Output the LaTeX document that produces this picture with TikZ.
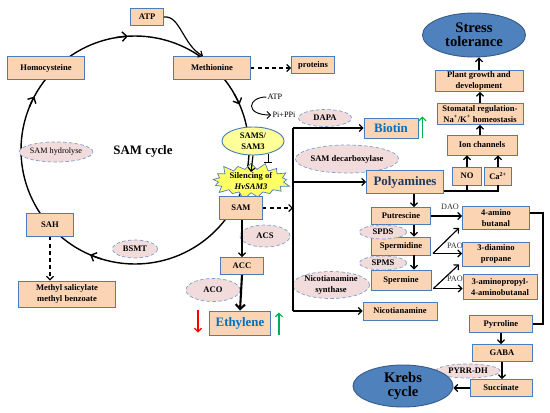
\documentclass[tikz,border=0pt]{standalone}
\usepackage{fontspec}
\setmainfont{Liberation Serif}
\usetikzlibrary{arrows.meta, positioning, calc, shapes.geometric, shapes.symbols}
\definecolor{boxfill}{HTML}{FBD4B4}
\definecolor{boxline}{HTML}{4A7EBB}
\definecolor{enzfill}{HTML}{F2DCDB}
\definecolor{enzline}{HTML}{7F9FCF}
\definecolor{goalfill}{HTML}{4F81BD}
\definecolor{goalline}{HTML}{385D8A}
\definecolor{samsfill}{HTML}{FFFF99}
\definecolor{burstfill}{HTML}{FFFF66}
\definecolor{prodblue}{HTML}{0070C0}
\definecolor{polynavy}{HTML}{1F3864}
\definecolor{upgreen}{HTML}{00B050}
\definecolor{downred}{HTML}{FF0000}
\newcommand{\boxfont}{\fontsize{7.3}{9}\selectfont\bfseries}
\newcommand{\lblfont}{\fontsize{7}{8}\selectfont}

\begin{document}
\begin{tikzpicture}[
    x=0.03cm, y=-0.03cm,
    >={Straight Barb[length=3pt, width=6pt]},
    box/.style 2 args={draw=boxline, line width=0.8pt, fill=boxfill, minimum width=#1cm, minimum height=#2cm, inner sep=1pt, align=center, font=\boxfont},
    enz/.style 2 args={ellipse, draw=enzline, densely dashed, line width=0.6pt, fill=enzfill, minimum width=#1cm, minimum height=#2cm, inner sep=0pt, align=center, font=\boxfont},
    goal/.style 2 args={ellipse, draw=goalline, line width=0.8pt, fill=goalfill, minimum width=#1cm, minimum height=#2cm, inner sep=0pt, align=center, font=\fontsize{12.5}{12}\selectfont\bfseries},
    lbl/.style={font=\lblfont, inner sep=1pt},
    flow/.style={->, line width=1pt},
    dflow/.style={->, line width=1pt, dashed},
    cycarrow/.style={line width=1.2pt, -{Straight Barb[length=4pt, width=8pt]}},
    upmark/.style={->, line width=1pt, upgreen},
    downmark/.style={->, line width=1pt, downred},
]
    \useasboundingbox (0,0) rectangle (550,413);
    \fill[white] (0,0) rectangle (550,413);

    % SAM cycle
    \coordinate (cyc) at (135,150);
    \draw[line width=1.2pt] (cyc) circle [radius=114];
    \foreach \a in {-93.6, -23.5, -246.8, -152}
        \draw[cycarrow] (cyc) ++(\a-6:114) arc[start angle=\a-6, end angle=\a, radius=114];

    \node[box={0.99}{0.51}] (atp) at (147,17) {ATP};
    \node[box={2.31}{0.69}] (homo) at (46,68) {Homocysteine};
    \node[box={2.31}{0.69}] (meth) at (212,68) {Methionine};
    \node[box={1.29}{0.51}] (prot) at (313,65) {proteins};
    \node[box={1.41}{0.69}] (sah) at (50,225) {SAH};
    \node[box={2.91}{0.78}] (methyl) at (67,294) {Methyl salicylate\\methyl benzoate};
    \node[enz={2.13}{0.6}, font=\lblfont] (samhyd) at (56,152) {SAM hydrolyse};
    \node[enz={1.35}{0.54}] (bsmt) at (135,249) {BSMT};
    \node[font=\fontsize{11}{12}\selectfont\bfseries] (cyclbl) at (143,151) {SAM cycle};

    \node[lbl] (atp2) at (275,97) {ATP};
    \node[lbl] (pi) at (284,115) {Pi+PPi};
    \node[ellipse, draw=boxline, line width=0.8pt, fill=samsfill, minimum width=1.86cm, minimum height=0.84cm, inner sep=0pt, align=center, font=\boxfont] (sams) at (253,141) {SAMS/\\SAM3};
    \node[starburst, draw=boxline, line width=0.6pt, fill=burstfill, minimum width=2.46cm, minimum height=1.14cm, starburst point height=0.25cm, inner sep=0pt, align=center, font=\boxfont] (silence) at (251,181) {Silencing of\\\textit{HvSAM3}};
    \node[box={1.29}{0.69}] (sam) at (241,208) {SAM};

    \draw[flow] (atp.east) .. controls (180,15) and (183,45) .. ($(meth.north)+(-9,0)$);
    \draw[dflow] (meth.east) -- (meth.east -| prot.west);
    \draw[->, line width=0.8pt] (atp2.west) .. controls (248,97) and (244,115) .. (pi.west);
    \draw[flow] (sams.south) -- ($(silence.center)+(0,-9)$);
    \draw[-{Bar[width=7pt]}, line width=1pt] (sams.-40) -- ++(0,9);
    \draw[dflow] (sah.south) -- (sah.south |- methyl.north);

    % ethylene branch
    \node[enz={1.5}{0.66}] (acs) at (265,236) {ACS};
    \node[box={1.29}{0.51}] (acc) at (242,266) {ACC};
    \node[enz={1.62}{0.69}] (aco) at (213,290) {ACO};
    \node[box={1.83}{0.72}, font=\fontsize{11}{12}\selectfont\bfseries, text=prodblue] (eth) at (240,323) {Ethylene};
    \draw[flow] (sam.south -| acc.north) -- (acc.north);
    \draw[line width=1.8pt, -{Straight Barb[length=4pt, width=8pt]}] (acc.south) -- (eth.north);
    \draw[downmark] ($(eth.north west)+(-11,-1)$) -- ++(0,23);
    \draw[upmark] ($(eth.south east)+(8,0)$) -- ++(0,-23);

    % trunk to biotin, polyamines, nicotianamine
    \node[enz={1.59}{0.51}] (dapa) at (325,118) {DAPA};
    \node[box={1.62}{0.6}, font=\fontsize{11}{12}\selectfont\bfseries, text=prodblue] (biotin) at (391,128) {Biotin};
    \node[enz={3.03}{0.84}] (samdec) at (347,159) {SAM decarboxylase};
    \node[box={2.31}{0.69}, font=\fontsize{11}{12}\selectfont\bfseries, text=polynavy] (poly) at (405,182) {Polyamines};
    \node[enz={2.31}{0.81}] (nicsyn) at (331,285) {Nicotianamine\\synthase};
    \node[box={2.22}{0.54}] (nicot) at (400,311) {Nicotianamine};
    \coordinate (tTop) at (293,128);
    \coordinate (tBot) at (293,311);
    \draw[line width=1pt] (tTop) -- (tBot);
    \draw[dflow] (sam.east) -- (sam.east -| tTop);
    \draw[flow] (tTop) -- (biotin.west);
    \draw[flow] (tTop |- poly.west) -- (poly.west);
    \draw[flow] (tBot) -- (nicot.west);
    \draw[upmark] ($(biotin.south east)+(4,0)$) -- ++(0,-22);

    % stress tolerance
    \node[goal={3.09}{1.32}] (stress) at (474,35) {Stress\\tolerance};
    \node[box={2.64}{0.63}] (plant) at (479,81) {Plant growth and\\development};
    \node[box={2.58}{0.63}] (stom) at (480,114) {Stomatal regulation-\\Na\textsuperscript{+}/K\textsuperscript{+} homeostasis};
    \node[box={2.1}{0.6}] (ion) at (482,145) {Ion channels};
    \node[box={0.87}{0.54}] (no) at (467,176) {NO};
    \node[box={0.81}{0.54}] (ca) at (498,176) {Ca\textsuperscript{2+}};
    \coordinate (pjoin) at ($(poly.south east)+(0,-3)$);
    \draw[line width=1pt] (pjoin) -| (no.south);
    \draw[line width=1pt] (pjoin) -| (ca.south);
    \draw[flow] (no.north) -- (no.north |- ion.south);
    \draw[flow] (ca.north) -- (ca.north |- ion.south);
    \draw[flow] (ion.north -| stom.south) -- (stom.south);
    \draw[flow] (stom.north) -- (stom.north |- plant.south);
    \draw[flow] (plant.north) -- (plant.north |- stress.south);

    % polyamine catabolism
    \node[box={1.77}{0.51}] (put) at (401,216) {Putrescine};
    \node[box={1.77}{0.54}] (spd) at (401,246) {Spermidine};
    \node[box={1.8}{0.6}] (spm) at (401,280) {Spermine};
    \node[enz={1.41}{0.42}] (spds) at (383,232) {SPDS};
    \node[enz={1.41}{0.42}] (spms) at (383,263) {SPMS};
    \node[box={2.01}{0.69}] (amino4) at (496,218) {4-amino\\butanal};
    \node[box={2.01}{0.72}] (diamino) at (496,254) {3-diamino\\propane};
    \node[box={2.22}{0.75}] (aminoprop) at (500,287) {3-aminopropyl-\\4-aminobutanal};
    \node[lbl, text=black!80] (dao) at (450,207) {DAO};
    \node[lbl, text=black!80] (pao1) at (455,246) {PAO};
    \node[lbl, text=black!80] (pao2) at (455,279) {PAO};
    \coordinate (spx) at (414,0);
    \draw[flow] (poly.south -| spx) -- (put.north -| spx);
    \draw[flow] (put.south -| spx) -- (spd.north -| spx);
    \draw[flow] (spd.south -| spx) -- (spm.north -| spx);
    \draw[flow] (put.east) -- (put.east -| amino4.west);
    \coordinate (spdout) at ($(spd.south east)+(2,-2)$);
    \coordinate (spmout) at ($(spm.south east)+(2,-2)$);
    \draw[flow] (spdout) -- ($(amino4.south west)+(-3,-2)$);
    \draw[flow] (spdout) -- (spdout -| diamino.west);
    \draw[flow] (spmout) -- ($(diamino.south west)+(-3,-2)$);
    \draw[flow] (spmout) -- (spmout -| aminoprop.west);

    % GABA shunt
    \node[box={1.89}{0.51}] (pyrr) at (501,324) {Pyrroline};
    \node[box={1.8}{0.51}] (gaba) at (502,353) {GABA};
    \node[box={1.86}{0.51}] (succ) at (501,388) {Succinate};
    \node[enz={1.92}{0.42}] (pyrrdh) at (468,371) {PYRR-DH};
    \node[goal={3.0}{1.26}] (krebs) at (403,386) {Krebs\\cycle};
    \draw[line width=1pt] ($(amino4.east)+(0,-5)$) -- ++(13,0) |- (pyrr.east);
    \draw[flow] (pyrr.south) -- (pyrr.south |- gaba.north);
    \draw[flow] (gaba.south) -- (gaba.south |- succ.north);
    \draw[flow] (succ.west) -- (succ.west -| krebs.east);
\end{tikzpicture}
\end{document}
